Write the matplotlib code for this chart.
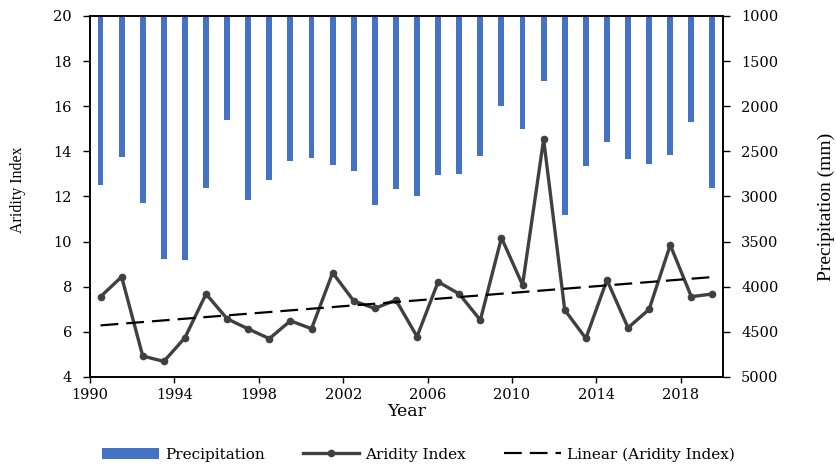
import matplotlib
matplotlib.use("Agg")
import matplotlib.pyplot as plt
import numpy as np

years = np.arange(1990, 2020)
precip_mm = [2875, 2562, 3072, 3698, 3707, 2902, 2155, 3040, 2820, 2607,
             2572, 2647, 2717, 3090, 2915, 2997, 2757, 2750, 2547, 1992,
             2250, 1717, 3207, 2657, 2392, 2580, 2640, 2537, 2175, 2910]
aridity = [7.56, 8.44, 4.93, 4.69, 5.74, 7.68, 6.58, 6.13, 5.70, 6.49,
           6.14, 8.62, 7.37, 7.04, 7.41, 5.79, 8.22, 7.68, 6.52, 10.17,
           8.08, 14.53, 6.97, 5.71, 8.30, 6.18, 7.00, 9.85, 7.56, 7.68]
year_ticks = np.arange(1990, 2019, 4)

plt.rcParams["font.family"] = ["DejaVu Serif"]
plt.rcParams["font.size"] = 10.5
NARROW = ["Liberation Serif", "DejaVu Serif"]

fig = plt.figure(figsize=(8.37, 4.66), dpi=100)
ax = fig.add_axes([0.1075, 0.191, 0.7563, 0.7747])
ax2 = ax.twinx()

x = years + 0.5

# precipitation bars hang from the top of an inverted secondary axis
bars = ax2.bar(x, np.array(precip_mm) - 1000, bottom=1000, width=0.28,
               color="#4472C4", label="Precipitation", zorder=1)
ax2.set_ylim(5000, 1000)
ax2.set_yticks(np.arange(1000, 5001, 500))
ax2.set_ylabel("Precipitation (mm)", fontsize=14, family=NARROW, labelpad=28)
ax2.yaxis.label.set_y(0.47)

ax.set_zorder(ax2.get_zorder() + 1)
ax.patch.set_visible(False)

line, = ax.plot(x, aridity, color="#404040", lw=2.4, marker="o", ms=4.5,
                label="Aridity Index")
coef = np.polyfit(x, aridity, 1)
trend, = ax.plot(x, np.polyval(coef, x), color="black", lw=1.6,
                 dashes=(8, 3.6), label="Linear (Aridity Index)")

ax.set_xlim(1990, 2020)
ax.set_ylim(4, 20)
ax.set_yticks(np.arange(4, 21, 2))
ax.set_xticks(year_ticks)
ax.set_xlabel("Year", fontsize=12.5, labelpad=1)
ax.set_ylabel("Aridity Index", fontsize=11.5, family=NARROW, labelpad=20)
ax.yaxis.label.set_y(0.52)

for a in (ax, ax2):
    a.tick_params(direction="out", length=5, width=1, pad=8)
    for s in a.spines.values():
        s.set_linewidth(1.2)
ax.tick_params(axis="x", length=4, pad=4)

fig.legend(handles=[bars, line, trend], loc="lower center", ncol=3,
           bbox_to_anchor=(0.5, -0.02), frameon=False, handlelength=3.7,
           columnspacing=2.5, handletextpad=0.4, fontsize=11)

fig.savefig("out.png", dpi=100)
